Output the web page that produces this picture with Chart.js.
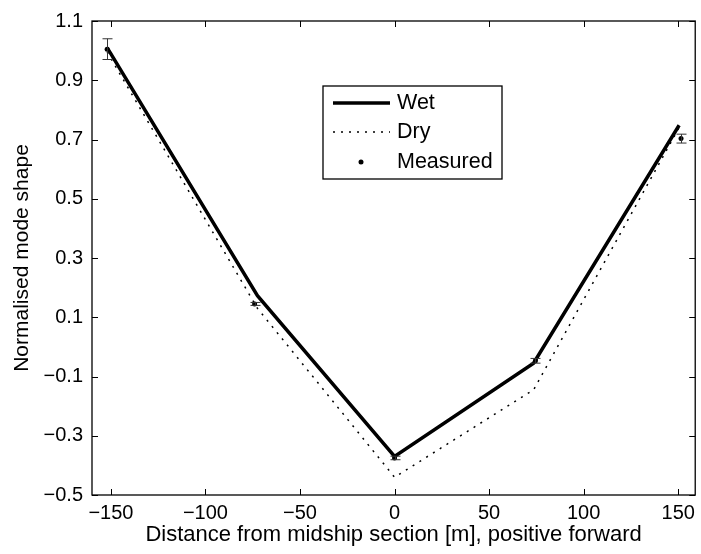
<!DOCTYPE html>
<html>
<head>
<meta charset="utf-8">
<script src="https://cdn.jsdelivr.net/npm/chart.js@4"></script>
<style>
  html, body { margin: 0; padding: 0; background: #fff; }
  #wrap { width: 701px; height: 554px; }
</style>
</head>
<body>
<div id="wrap"><canvas id="modeChart" width="701" height="554"></canvas></div>
<script>
// Data
const positions = [-152, -72.5, 0, 73.5, 150.5];
const wetShape  = [1.01, 0.173, -0.37, -0.055, 0.748];
const dryShape  = [0.995, 0.13, -0.44, -0.145, 0.74];
const measPos   = [-152, -74, 0, 74.5, 151.5];
const measured  = [1.005, 0.145, -0.375, -0.047, 0.703];
const measErr   = [0.035, 0.005, 0.006, 0.008, 0.015];
const xTicks = [-150, -100, -50, 0, 50, 100, 150];
const yTicks = [-0.5, -0.3, -0.1, 0.1, 0.3, 0.5, 0.7, 0.9, 1.1];

const FONT = 'Liberation Sans, Arial, Helvetica, sans-serif';
const minus = s => String(s).replace('-', '\u2212');

// frame, inward ticks, error bars and legend, the MATLAB way
const matlabDecor = {
    id: 'matlabDecor',
    afterDatasetsDraw(chart) {
        const { ctx, chartArea: a, scales: { x, y } } = chart;
        ctx.save();

        // error bars
        ctx.strokeStyle = '#333';
        ctx.lineWidth = 1;
        measPos.forEach((p, i) => {
            const px = Math.round(x.getPixelForValue(p)) + 0.5;
            const top = y.getPixelForValue(measured[i] + measErr[i]);
            const bot = y.getPixelForValue(measured[i] - measErr[i]);
            ctx.beginPath();
            ctx.moveTo(px, top); ctx.lineTo(px, bot);
            ctx.moveTo(px - 5, top); ctx.lineTo(px + 5, top);
            ctx.moveTo(px - 5, bot); ctx.lineTo(px + 5, bot);
            ctx.stroke();
        });

        // frame
        ctx.strokeStyle = '#000';
        ctx.lineWidth = 1.3;
        ctx.strokeRect(a.left, a.top, a.right - a.left, a.bottom - a.top);

        // inward ticks on all four sides
        const tl = 6;
        ctx.beginPath();
        xTicks.forEach(v => {
            const px = Math.round(x.getPixelForValue(v)) + 0.5;
            ctx.moveTo(px, a.bottom); ctx.lineTo(px, a.bottom - tl);
            ctx.moveTo(px, a.top); ctx.lineTo(px, a.top + tl);
        });
        yTicks.forEach(v => {
            const py = Math.round(y.getPixelForValue(v)) + 0.5;
            ctx.moveTo(a.left, py); ctx.lineTo(a.left + tl, py);
            ctx.moveTo(a.right, py); ctx.lineTo(a.right - tl, py);
        });
        ctx.lineWidth = 1;
        ctx.stroke();

        // legend box
        const L = 323, R = 502, T = 86, B = 179;
        ctx.fillStyle = '#fff';
        ctx.fillRect(L, T, R - L, B - T);
        ctx.lineWidth = 1.3;
        ctx.strokeRect(L, T, R - L, B - T);

        const rows = [103, 132, 162];
        ctx.strokeStyle = '#000';
        ctx.lineWidth = 3.5;
        ctx.beginPath(); ctx.moveTo(333, rows[0]); ctx.lineTo(390, rows[0]); ctx.stroke();
        ctx.lineWidth = 1.5;
        ctx.setLineDash([2, 6]);
        ctx.beginPath(); ctx.moveTo(333, rows[1]); ctx.lineTo(390, rows[1]); ctx.stroke();
        ctx.setLineDash([]);
        ctx.fillStyle = '#000';
        ctx.beginPath(); ctx.arc(361, rows[2], 2.5, 0, Math.PI * 2); ctx.fill();

        ctx.font = '21.5px ' + FONT;
        ctx.textBaseline = 'middle';
        ctx.textAlign = 'left';
        ['Wet', 'Dry', 'Measured'].forEach((t, i) => ctx.fillText(t, 397, rows[i]));
        ctx.restore();
    }
};

new Chart(document.getElementById('modeChart'), {
    type: 'scatter',
    data: {
        datasets: [
            {
                label: 'Wet',
                data: positions.map((p, i) => ({ x: p, y: wetShape[i] })),
                showLine: true,
                borderColor: '#000',
                borderWidth: 3.5,
                pointRadius: 0,
            },
            {
                label: 'Dry',
                data: positions.map((p, i) => ({ x: p, y: dryShape[i] })),
                showLine: true,
                borderColor: '#000',
                borderWidth: 1.5,
                borderDash: [2, 6],
                pointRadius: 0,
            },
            {
                label: 'Measured',
                data: measPos.map((p, i) => ({ x: p, y: measured[i] })),
                showLine: false,
                backgroundColor: '#000',
                borderColor: '#000',
                pointRadius: 2.5,
                borderWidth: 0,
            },
        ],
    },
    options: {
        responsive: false,
        animation: false,
        devicePixelRatio: 1,
        layout: { padding: { top: 15, right: 2, left: 0, bottom: 0 } },
        plugins: { legend: { display: false }, tooltip: { enabled: false } },
        scales: {
            x: {
                type: 'linear',
                min: -160, max: 159,
                grid: { display: false, drawTicks: false },
                border: { display: false },
                afterBuildTicks: s => { s.ticks = xTicks.map(v => ({ value: v })); },
                afterFit: s => { s.height = 59; },
                ticks: {
                    color: '#000', padding: 6,
                    font: { family: FONT, size: 20 },
                    maxRotation: 0, autoSkip: false,
                    callback: v => minus(v),
                },
                title: {
                    display: true,
                    text: 'Distance from midship section [m], positive forward',
                    color: '#000',
                    font: { family: FONT, size: 22 },
                    padding: { top: 0, bottom: 6 },
                },
            },
            y: {
                type: 'linear',
                min: -0.5, max: 1.1,
                grid: { display: false, drawTicks: false },
                border: { display: false },
                afterBuildTicks: s => { s.ticks = yTicks.map(v => ({ value: v })); },
                afterFit: s => { s.width = 92; },
                ticks: {
                    color: '#000', padding: 9,
                    font: { family: FONT, size: 20 },
                    autoSkip: false,
                    callback: v => minus(v.toFixed(1)),
                },
                title: {
                    display: true,
                    text: 'Normalised mode shape',
                    color: '#000',
                    font: { family: FONT, size: 21 },
                    padding: { top: 9.5, bottom: 0 },
                },
            },
        },
    },
    plugins: [matlabDecor],
});
</script>
</body>
</html>
